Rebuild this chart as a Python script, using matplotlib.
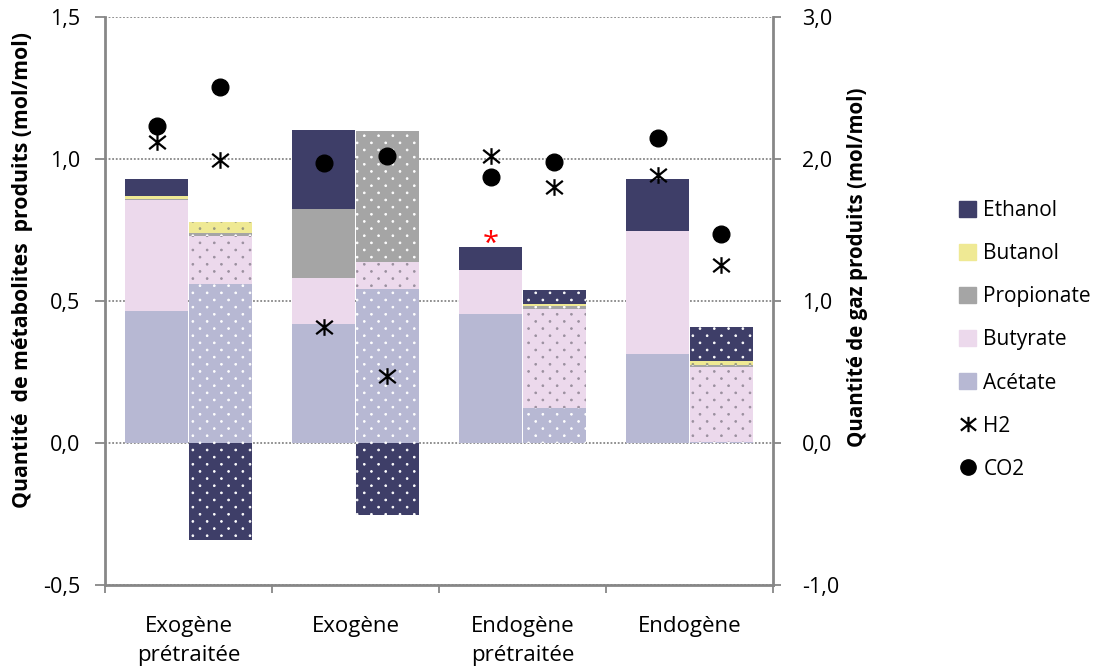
import numpy as np
import matplotlib
matplotlib.use('Agg')
from matplotlib import pyplot as plt
from matplotlib import hatch as mhatch
from matplotlib.path import Path
from matplotlib.patches import Patch
from matplotlib.lines import Line2D

plt.rcParams['font.family'] = ['Open Sans', 'DejaVu Sans']
plt.rcParams['hatch.linewidth'] = 0.6

# Data
categories = ['Exogène\nprétraitée', 'Exogène', 'Endogène\nprétraitée', 'Endogène']
left_ticks = [-0.5, 0.0, 0.5, 1.0, 1.5]
left_ticklabels = ['-0,5', '0,0', '0,5', '1,0', '1,5']
right_ticks = [-1.0, 0.0, 1.0, 2.0, 3.0]
right_ticklabels = ['-1,0', '0,0', '1,0', '2,0', '3,0']

# first bar of each pair (plain)
acetate_a = [0.465, 0.419, 0.455, 0.313]
butyrate_a = [0.390, 0.162, 0.155, 0.433]
propionate_a = [0.004, 0.243, 0.0, 0.0]
butanol_a = [0.012, 0.0, 0.0, 0.0]
ethanol_a = [0.060, 0.278, 0.080, 0.184]

# second bar of each pair (dotted)
acetate_b = [0.561, 0.542, 0.124, 0.003]
butyrate_b = [0.166, 0.095, 0.348, 0.266]
propionate_b = [0.014, 0.462, 0.012, 0.004]
butanol_b = [0.037, 0.0, 0.006, 0.016]
ethanol_b = [-0.340, -0.254, 0.050, 0.119]

# gas (right axis)
h2_a = [2.12, 0.82, 2.02, 1.89]
h2_b = [1.99, 0.47, 1.80, 1.25]
co2_a = [2.23, 1.97, 1.87, 2.15]
co2_b = [2.51, 2.02, 1.98, 1.47]

names = ['Acétate', 'Butyrate', 'Propionate', 'Butanol', 'Ethanol']
colors = ['#b7b8d3', '#ecd9ec', '#a5a5a5', '#efe994', '#3e3e68']
dot_colors = ['white', '#9a8f9e', 'white', '#9a9a80', 'white']

series_a = [acetate_a, butyrate_a, propionate_a, butanol_a, ethanol_a]
series_b = [acetate_b, butyrate_b, propionate_b, butanol_b, ethanol_b]


# small staggered dots, like the Excel "5%" pattern
class Dots(mhatch.HatchPatternBase):
    n = 7
    r = 0.009

    def __init__(self, hatch, density):
        circle = Path.unit_circle()
        self.shape_vertices = circle.vertices
        self.shape_codes = circle.codes
        if '.' in hatch:
            self.num_shapes = (self.n + 1) ** 2 + self.n ** 2
        else:
            self.num_shapes = 0
        self.num_vertices = self.num_shapes * len(self.shape_vertices)

    def set_vertices_and_codes(self, vertices, codes):
        v = []
        c = []
        for row in range(2 * self.n + 1):
            if row % 2 == 0:
                cols = np.arange(self.n + 1) / self.n
            else:
                cols = (np.arange(self.n) + 0.5) / self.n
            for col in cols:
                v.append(self.shape_vertices * self.r + [col, row / (2 * self.n)])
                c.append(self.shape_codes)
        np.concatenate(v, out=vertices)
        np.concatenate(c, out=codes)


mhatch._hatch_types = [t for t in mhatch._hatch_types
                       if t is not mhatch.SmallFilledCircles] + [Dots]

# H2 marker: vertical bar + X
star = Path([(0, -1), (0, 1), (-1, -0.8), (1, 0.8), (-1, 0.8), (1, -0.8)],
            [Path.MOVETO, Path.LINETO, Path.MOVETO, Path.LINETO, Path.MOVETO, Path.LINETO])

x = np.arange(len(categories))
w = 0.375
off = 0.19
grey = '#878787'

fig = plt.figure(figsize=(10.99, 6.66), dpi=100)
ax = fig.add_axes([0.0955, 0.1216, 0.6079, 0.853])


def stack(xpos, series, hatched):
    pos = np.zeros(len(xpos))
    neg = np.zeros(len(xpos))
    for vals, c, dc in zip(series, colors, dot_colors):
        vals = np.array(vals)
        bottom = np.where(vals >= 0, pos, neg)
        if hatched:
            ax.bar(xpos, vals, w, bottom=bottom, color=c, edgecolor=dc,
                   linewidth=0, hatch='.')
        else:
            ax.bar(xpos, vals, w, bottom=bottom, color=c, linewidth=0)
        pos = pos + np.clip(vals, 0, None)
        neg = neg + np.clip(vals, None, 0)


stack(x - off, series_a, False)
stack(x + off, series_b, True)

ax.set_xlim(-0.5, 3.5)
ax.set_ylim(-0.5, 1.5)
ax.set_yticks(left_ticks)
ax.set_yticklabels(left_ticklabels)
ax.yaxis.grid(True, color=grey, linestyle=(0, (1, 1)), linewidth=1.3)
ax.set_axisbelow(True)

ax.set_xticks(np.arange(-0.5, 4, 1))
ax.set_xticklabels([])
ax.set_xticks(x, minor=True)
ax.set_xticklabels(categories, minor=True, fontsize=16, linespacing=1.55)
ax.tick_params(axis='x', which='major', direction='out', length=6, color=grey, width=1.3)
ax.tick_params(axis='x', which='minor', length=0, pad=22)
ax.tick_params(axis='y', direction='out', length=7, color=grey, width=1.3,
               labelsize=15.5, pad=11)

for s in ['top', 'right']:
    ax.spines[s].set_visible(False)
for s in ['left', 'bottom']:
    ax.spines[s].set_color(grey)
    ax.spines[s].set_linewidth(2)

ax.set_ylabel('Quantité  de métabolites  produits (mol/mol)', fontsize=15.3,
              fontweight='bold')
ax.yaxis.set_label_coords(-0.108, 0.555)

# red asterisk above first bar of third group
ax.text(x[2] - off, 0.70, '*', color='red', fontsize=21, ha='center', va='center')

ax2 = ax.twinx()
ax2.set_ylim(-1.0, 3.0)
ax2.set_yticks(right_ticks)
ax2.set_yticklabels(right_ticklabels)
ax2.tick_params(axis='y', direction='out', length=6, color=grey, width=1.3,
                labelsize=15.5, pad=15)
for s in ['top', 'left', 'bottom']:
    ax2.spines[s].set_visible(False)
ax2.spines['right'].set_color(grey)
ax2.spines['right'].set_linewidth(2)

ax2.plot(x - off, h2_a, linestyle='none', marker=star, markersize=12,
         markeredgecolor='black', markerfacecolor='none', markeredgewidth=1.6)
ax2.plot(x + off, h2_b, linestyle='none', marker=star, markersize=12,
         markeredgecolor='black', markerfacecolor='none', markeredgewidth=1.6)
ax2.plot(x - off, co2_a, linestyle='none', marker='o', markersize=12, color='black')
ax2.plot(x + off, co2_b, linestyle='none', marker='o', markersize=12, color='black')

ax2.set_ylabel('Quantité de gaz produits (mol/mol)', fontsize=14.8,
               fontweight='bold')
ax2.yaxis.set_label_coords(1.111, 0.56)

# legend
handles = [Patch(color=c, label=n) for n, c in zip(names, colors)][::-1]
handles.append(Line2D([], [], linestyle='none', marker=star, markersize=11,
                      markeredgecolor='black', markerfacecolor='none',
                      markeredgewidth=1.6, label='H2'))
handles.append(Line2D([], [], linestyle='none', marker='o', markersize=11,
                      color='black', label='CO2'))
fig.legend(handles=handles, loc='center left', bbox_to_anchor=(0.8635, 0.4895),
           frameon=False, fontsize=15, handlelength=0.8, handleheight=0.8,
           handletextpad=0.35, labelspacing=1.06, borderpad=0)

fig.savefig('out.png', dpi=100)
